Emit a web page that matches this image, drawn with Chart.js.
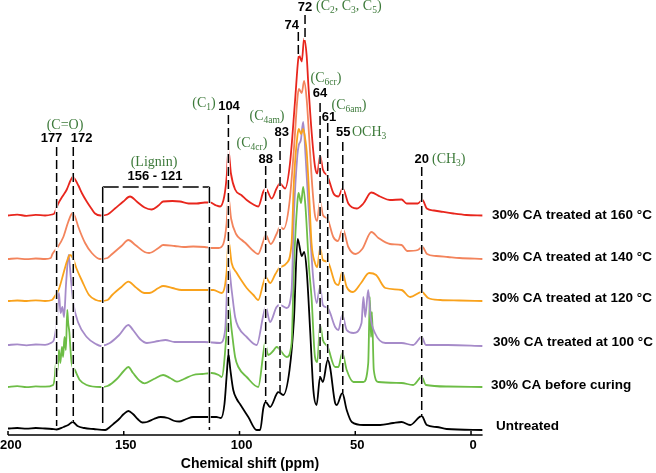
<!DOCTYPE html>
<html><head><meta charset="utf-8">
<script src="https://cdn.jsdelivr.net/npm/chart.js@4"></script>
<style>html,body{margin:0;padding:0;background:#fff}canvas{display:block}</style>
</head><body>
<canvas id="c" width="656" height="473"></canvas>
<script>
// ---- data: [chemical shift (ppm), intensity above own baseline] ----
const seriesNames = ["30% CA treated at 160 °C","30% CA treated at 140 °C","30% CA treated at 120 °C","30% CA treated at 100 °C","30% CA before curing","Untreated"];
const stackOffsets = [219.5, 176, 134, 90, 48, 6];
const xTicks = [200, 150, 100, 50, 0];

const ca160 = [[200,0],[196,0.8],[192,-0.3],[188,0.6],[184,0],[181,1],[180,2],[178.5,11],[176.5,19],[174.6,26],[173,35],[172,38.5],[171,36],[169.6,30],[168,22],[166,14],[164,7],[162.4,2],[160,0],[157,1],[153.8,7],[150.2,14],[147.3,19],[144.4,14],[141,8],[138,6],[135,10],[133,14],[129,14.5],[125.7,14],[122,12],[118.5,12],[115,13],[112.7,13],[110,10],[108.4,9],[106.6,19],[105.5,40],[104.8,66],[103.7,42],[101.9,26],[99,20],[96.9,15.5],[94,11],[91.9,9],[89.7,24],[88.7,27],[86.1,17],[84,27],[82.5,32],[80.3,27],[78.2,52],[76,115],[74.6,157],[74.2,160],[73.1,154],[72.1,177],[71,160],[70.3,132],[68.8,82],[67.4,49],[66.4,42],[65.2,60],[64,46],[61.9,39],[59.4,22],[57.3,19],[55.4,27],[53,12],[49.4,7],[46.5,12],[43.1,23],[39.3,19],[35,15.5],[30,16],[27.8,12],[23,12],[21,15.5],[19.1,7],[16,5],[13.3,4],[7.6,2],[2,0.5],[-5,0]];
const ca140 = [[200,0],[196,0.6],[192,-0.2],[188,0.5],[184,0],[181.5,1],[180.8,5],[178.5,12],[176.1,22],[174,37],[172.1,46],[171,42],[169.6,32],[166.7,16],[163.8,6],[160.3,0],[157,1],[155,5],[151,13],[148,19],[145,14],[141,7],[139,6],[135,11],[133,14],[128,13],[124,12],[120,12.5],[115,12],[112,11],[109,11],[107,15],[105.6,35],[104.8,62],[103.6,40],[101.5,25],[99,19],[97,15],[94,8],[92,5],[89.7,18],[88.7,24],[86.5,15],[84,25],[82.5,32],[81,30],[78.5,55],[76.5,110],[75,160],[74.4,170],[73.1,166],[72.1,178],[71,160],[70,125],[68.8,80],[67.5,45],[66.5,38],[65.2,58],[64,44],[62,40],[59.5,22],[57.5,18],[55.4,30],[53,12],[50,5],[47,10],[43,27],[40,21],[35,15],[30,14],[27.5,8],[23,9],[21,12],[19,5],[15,3],[10,2],[5,1],[-5,0]];
const ca120 = [[200,0],[196,0.5],[192,0],[188,0.7],[184,0],[181,1],[180,4],[178,12],[176,28],[174.5,40],[173.2,46],[172,43],[170.5,33],[168,20],[165,6],[162,1],[160,0],[157,1],[155,6],[151,14],[148,19.3],[145,14],[141,8],[139,8],[135,13],[133,15],[129,13],[125,11],[120,11],[115,11],[111.3,11],[107.7,8],[105.5,31],[104.8,61],[103.4,38],[101.2,28],[99,20],[96.9,13],[94,6],[91.9,1],[89.7,18],[88.7,24],[86.8,18],[84.5,27],[82.8,33],[79.6,38],[77.5,58],[76.5,120],[75,165],[74.4,172],[73.4,167],[72.5,172],[71.5,160],[71,150],[70,110],[68.9,58],[67.4,38],[66.4,34],[65.2,53],[64,41],[61.9,39],[58.7,18],[57.3,16],[55.6,29],[53.7,14],[51,9],[47.5,18],[44,28],[41,26],[37,13],[30,11],[26.3,4],[21.3,9],[18.5,3],[13.3,1],[5,0.5],[-5,0]];
const ca100 = [[200,0],[196,0.6],[192,-0.3],[188,0.5],[184,0.2],[181.5,2],[180.2,5],[179,22],[178,52],[177.3,32],[176.5,38],[175.8,28],[174.9,62],[173.8,90],[172.9,68],[171.8,42],[169.6,22],[166,8],[162,1],[160,-1],[156,2],[152,10],[148,20],[146,15],[143,6],[140,2],[135,4],[132,5],[128,3],[124,3],[120,3],[115,3],[108.4,2],[106.2,15],[104.8,80],[103.4,55],[101.9,28],[100.5,18],[96.9,8],[92.6,0],[89.7,30],[88.7,38],[86.8,23],[84,38],[82.5,40],[79.6,37],[77.5,55],[76.5,130],[75,190],[74.4,200],[73.5,205],[72.5,223],[71.5,190],[70,130],[68.1,65],[66.7,42],[65.2,58],[64,40],[61.9,37],[58.7,18],[57.3,15],[55.6,30],[53.7,15],[50.8,12],[47.3,22],[46.5,48],[45.7,28],[44.4,55],[43.4,28],[41.5,12],[37,2],[30,2],[25,0],[21.3,8],[19.5,0],[10,0],[-5,-1]];
const caUncured = [[200,0],[196,0.8],[192,-0.2],[188,0.6],[184,0.3],[180.5,2],[179.8,10],[179.3,24],[178.7,15],[178,37],[177.4,24],[176.7,40],[176.2,30],[175.6,50],[175,37],[174.4,77],[174,64],[173.5,55],[172.9,34],[172.5,24],[171.1,17],[169,7],[166,2],[160,0],[157,1],[153,8],[150,16],[148,20],[146,14],[143,6],[141,3.7],[137,8],[133,12],[130,9],[127,5.3],[124,8],[120,12],[116,13],[112,14],[109,12],[107.7,10],[105.5,57],[104.8,84],[103.4,57],[101.9,30],[100.5,20],[96.9,10],[91.9,0],[89.7,34],[89,44],[87.6,32],[85.5,36],[84,40],[79.6,30],[77.5,44],[76.5,120],[75,185],[74.5,194],[73.4,184],[72.5,200],[71.5,180],[70,120],[68.9,90],[67.4,30],[66.4,25],[65.2,62],[64,47],[61.9,40],[58.7,20],[57.3,20],[55.6,34],[53.7,17],[50.8,5],[46.5,5],[44.4,24],[43.7,90],[43.2,50],[42.8,75],[42,17],[40,5],[30,4],[25,2],[21.3,10],[19.5,2],[10,0.5],[-5,0]];
const untreated = [[200,0.5],[196,1],[192,0.3],[188,1],[184,0.5],[181,0],[179,-0.5],[176,2],[174,4],[172,7],[170,3],[167,1],[163,0],[158,-1],[156,2],[154,6],[152,10],[150,15],[148,18],[146,15],[144,10],[142,6.5],[140,7],[137,10],[134,12],[131,11],[128,8],[126,7.5],[123,10],[120,12],[115,12],[110,12],[108,11],[106.5,25],[105.5,55],[104.8,75],[104,60],[102.7,39],[101.2,30],[99.8,25],[96.2,12],[92.6,-1],[91.1,-1],[89.7,21],[88.7,27],[86.8,22],[83.2,37],[81.1,34],[78.4,59],[76.5,109],[74.9,190],[73.1,173],[72.1,177],[71,159],[69.5,99],[68.1,39],[66.7,24],[65.2,52],[64,47],[61.9,69],[60.9,62],[58.7,26],[58,24],[55.6,36],[53.7,19],[51.5,7],[46.5,4],[39.3,4],[33.6,6],[30,7],[26.3,4],[21.3,13],[19.1,4],[14.8,2],[10.5,0],[-5,-1]];

const spectra = [ca160, ca140, ca120, ca100, caUncured, untreated];
const colors = ['#e8261d', '#f3845c', '#f9a21c', '#a68bc9', '#6dbd46', '#000000'];

// ---- annotation styling (not data) ----
const GREEN = '#3d7a3a';
const peakLines = [ // ppm position, top pixel, bottom pixel
  {ppm:179, top:147, bottom:426},{ppm:171.8, top:147, bottom:422},{ppm:104.8, top:115, bottom:355},
  {ppm:88.7, top:166, bottom:402},{ppm:82.5, top:138, bottom:392},{ppm:74.6, top:32, bottom:56},
  {ppm:71.7, top:15, bottom:40},{ppm:65.2, top:103, bottom:377},{ppm:61.9, top:123, bottom:360},
  {ppm:55.4, top:142, bottom:393},{ppm:21.3, top:167, bottom:416}];
const lignin = {left:159.1, right:113.0, top:187, bottomL:424, bottomR:430};
// text: [segments], x, y, align, kind
const notes = [
  {t:[['(C=O)']], x:65, y:125, a:'center', k:'g'},
  {t:[['177']], x:51.5, y:138, a:'center', k:'b'},
  {t:[['172']], x:81.7, y:138, a:'center', k:'b'},
  {t:[['(Lignin)']], x:154, y:162, a:'center', k:'g'},
  {t:[['156 - 121']], x:155, y:176, a:'center', k:'b'},
  {t:[['(C'],['1',1],[')']], x:204, y:103, a:'center', k:'g'},
  {t:[['104']], x:229, y:106, a:'center', k:'b'},
  {t:[['(C'],['4cr',1],[')']], x:252, y:143, a:'center', k:'g'},
  {t:[['88']], x:265.7, y:159, a:'center', k:'b'},
  {t:[['(C'],['4am',1],[')']], x:267, y:116, a:'center', k:'g'},
  {t:[['83']], x:281.7, y:132, a:'center', k:'b'},
  {t:[['74']], x:291.7, y:25, a:'center', k:'b'},
  {t:[['72']], x:305, y:7, a:'center', k:'b'},
  {t:[['(C'],['2',1],[', C'],['3',1],[', C'],['5',1],[')']], x:316, y:6, a:'left', k:'g'},
  {t:[['(C'],['6cr',1],[')']], x:326, y:78, a:'center', k:'g'},
  {t:[['64']], x:320, y:93, a:'center', k:'b'},
  {t:[['(C'],['6am',1],[')']], x:349, y:105, a:'center', k:'g'},
  {t:[['61']], x:329, y:117, a:'center', k:'b'},
  {t:[['55']], x:343.3, y:132, a:'center', k:'b'},
  {t:[['OCH'],['3',1]], x:352, y:132, a:'left', k:'g'},
  {t:[['20']], x:421.7, y:159, a:'center', k:'b'},
  {t:[['(CH'],['3',1],[')']], x:432, y:159, a:'left', k:'g'}
];
const nameAnchors = [[492,215],[492,257],[492,298.5],[493,342],[491,385],[496,426]];

function drawRich(ctx, segs, x, y, align, kind){
  const main = kind==='g' ? '14px "Liberation Serif", "DejaVu Serif", serif' : 'bold 13px "Liberation Sans", Arial, sans-serif';
  const sub = '9.5px "Liberation Serif", "DejaVu Serif", serif';
  ctx.fillStyle = kind==='g' ? GREEN : '#000';
  ctx.textBaseline = 'middle';
  ctx.textAlign = 'left';
  let w = 0;
  for (const s of segs){ ctx.font = s[1]?sub:main; w += ctx.measureText(s[0]).width; }
  let cx = align==='center' ? x - w/2 : x;
  for (const s of segs){
    ctx.font = s[1]?sub:main;
    ctx.fillText(s[0], cx, s[1]? y+4 : y);
    cx += ctx.measureText(s[0]).width;
  }
}

const overlay = {
  id:'overlay',
  afterDatasetsDraw(chart){
    const ctx = chart.ctx, xs = chart.scales.x;
    ctx.save();
    // dashed marker lines
    const dashed = (x1,y1,x2,y2,pat)=>{
      ctx.setLineDash([]); ctx.strokeStyle='#fff'; ctx.lineWidth=2.6;
      ctx.beginPath(); ctx.moveTo(x1,y1); ctx.lineTo(x2,y2); ctx.stroke();
      ctx.setLineDash(pat); ctx.strokeStyle='#000'; ctx.lineWidth=1.5;
      ctx.beginPath(); ctx.moveTo(x1,y1); ctx.lineTo(x2,y2); ctx.stroke();
    };
    for (const l of peakLines){
      const px = xs.getPixelForValue(l.ppm);
      dashed(px, l.top, px, l.bottom, [9,4]);
    }
    const lx = xs.getPixelForValue(lignin.left), rx = xs.getPixelForValue(lignin.right);
    ctx.setLineDash([16,4]); ctx.strokeStyle='#000'; ctx.lineWidth=1.5;
    ctx.beginPath(); ctx.moveTo(lx, lignin.top); ctx.lineTo(rx, lignin.top); ctx.stroke();
    dashed(lx, lignin.top, lx, lignin.bottomL, [16,4]);
    dashed(rx, lignin.top, rx, lignin.bottomR, [16,4]);
    ctx.setLineDash([]);
    for (const n of notes) drawRich(ctx, n.t, n.x, n.y, n.a, n.k);
    // x axis
    const ay = chart.chartArea.bottom;
    ctx.strokeStyle='#000'; ctx.lineWidth=1.5;
    ctx.beginPath(); ctx.moveTo(chart.chartArea.left, ay); ctx.lineTo(chart.chartArea.right, ay); ctx.stroke();
    ctx.font='bold 13px "Liberation Sans", Arial, sans-serif';
    ctx.fillStyle='#000'; ctx.textBaseline='middle';
    for (const t of xTicks){
      const px = xs.getPixelForValue(t);
      ctx.beginPath(); ctx.moveTo(px, ay); ctx.lineTo(px, ay-4); ctx.stroke();
      const w = ctx.measureText(String(t)).width;
      let tx = px + 2 - w/2; if (tx < 0) tx = 0;
      ctx.textAlign='left'; ctx.fillText(String(t), tx, ay+10);
    }
    ctx.font='bold 14px "Liberation Sans", Arial, sans-serif';
    ctx.textAlign='center';
    ctx.fillText('Chemical shift (ppm)', 250, ay+29);
    // series names
    ctx.font='bold 13.5px "Liberation Sans", Arial, sans-serif';
    ctx.textAlign='left';
    seriesNames.forEach((nm,i)=>ctx.fillText(nm, nameAnchors[i][0], nameAnchors[i][1]));
    ctx.restore();
  }
};

new Chart(document.getElementById('c'), {
  type:'line',
  data:{ datasets: spectra.map((s,i)=>({
    label: seriesNames[i],
    data: s.map(p=>({x:p[0], y:p[1]+stackOffsets[i]})),
    borderColor: colors[i], borderWidth: 1.8, pointRadius: 0,
    cubicInterpolationMode: 'monotone', fill:false
  }))},
  options:{
    responsive:false, devicePixelRatio:1, animation:false,
    layout:{padding:{left:8, right:173.4, top:0, bottom:38}},
    plugins:{legend:{display:false}, tooltip:{enabled:false}},
    scales:{
      x:{type:'linear', reverse:true, min:-5, max:200, display:false},
      y:{type:'linear', min:0, max:435, display:false}
    }
  },
  plugins:[overlay]
});
</script>
</body></html>
